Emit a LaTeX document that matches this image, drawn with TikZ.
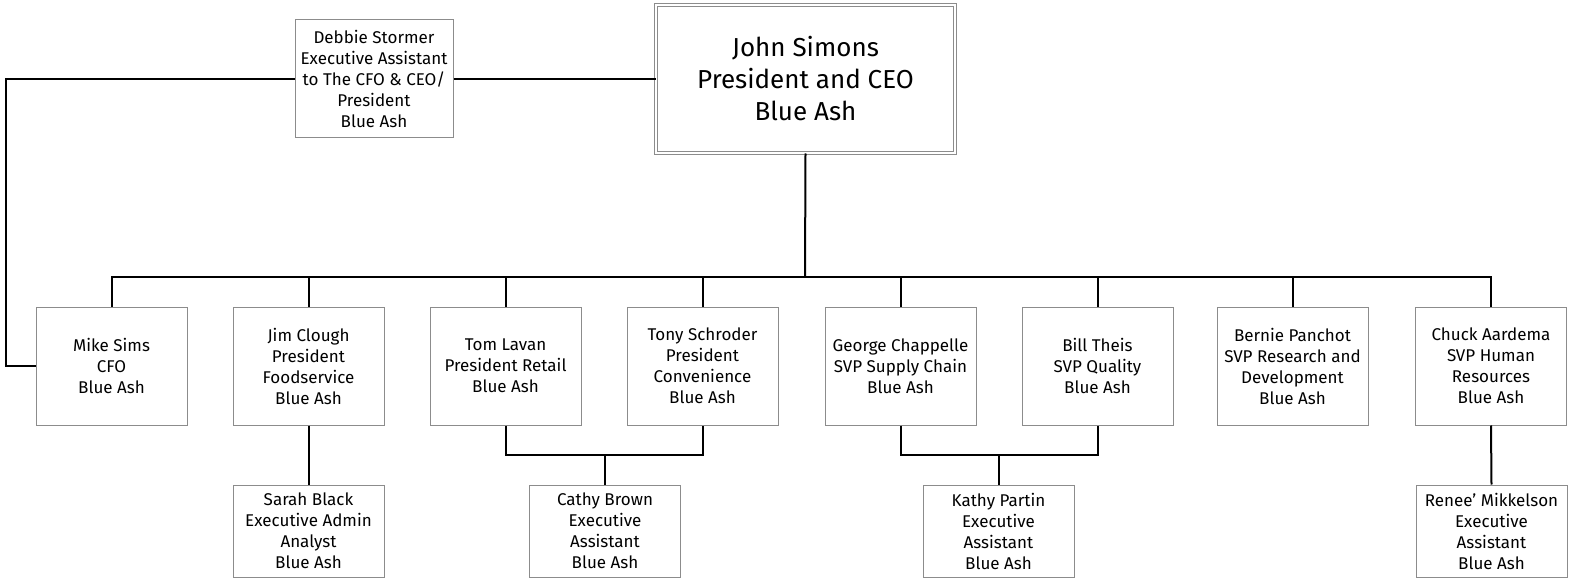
\documentclass[tikz,border=0pt]{standalone}
\usepackage{fontspec}
\setmainfont{Fira Sans}
\definecolor{boxgray}{RGB}{140,140,140}
\begin{document}
\begin{tikzpicture}[x=1pt,y=-1pt,
  box/.style={draw=boxgray, line width=1pt, minimum width=151pt, minimum height=118pt,
    inner sep=0pt, align=center, font=\fontsize{17}{21}\selectfont},
  sbox/.style={box, minimum height=92pt},
  ceobox/.style={draw=boxgray, line width=1pt, double=white, double distance=2.5pt,
    minimum width=299pt, minimum height=148pt, inner sep=0pt, align=center,
    font=\fontsize{26}{32}\selectfont},
  conn/.style={draw=black, line width=2pt}]
\useasboundingbox (0,0) rectangle (1572,580);
\node[ceobox] (ceo) at (805.5,79) {John Simons\\President and CEO\\Blue Ash};
\node[box, minimum width=158pt] (debbie) at (374,79) {Debbie Stormer\\Executive Assistant\\to The CFO \& CEO/\\President\\Blue Ash};
\node[box] (mike)   at (111.5,366) {Mike Sims\\CFO\\Blue Ash};
\node[box] (jim)    at (308.5,366) {Jim Clough\\President\\Foodservice\\Blue Ash};
\node[box] (tom)    at (505.5,366) {Tom Lavan\\President Retail\\Blue Ash};
\node[box] (tony)   at (702.5,366) {Tony Schroder\\President\\Convenience\\Blue Ash};
\node[box] (george) at (900.5,366) {George Chappelle\\SVP Supply Chain\\Blue Ash};
\node[box] (bill)   at (1097.5,366) {Bill Theis\\SVP Quality\\Blue Ash};
\node[box] (bernie) at (1292.5,366) {Bernie Panchot\\SVP Research and\\Development\\Blue Ash};
\node[box] (chuck)  at (1491,366) {Chuck Aardema\\SVP Human\\Resources\\Blue Ash};
\node[sbox] (sarah) at (308.5,531) {Sarah Black\\Executive Admin\\Analyst\\Blue Ash};
\node[sbox] (cathy) at (605,531) {Cathy Brown\\Executive\\Assistant\\Blue Ash};
\node[sbox] (kathy) at (998.5,531) {Kathy Partin\\Executive\\Assistant\\Blue Ash};
\node[sbox] (renee) at (1491.5,531) {Renee’ Mikkelson\\Executive\\Assistant\\Blue Ash};
\coordinate (bus) at (805,277);
\coordinate (lft) at (6,0);
\coordinate (j1) at (605,455);
\coordinate (j2) at (998.5,455);
% CEO to bus
\draw[conn] (ceo.south) -- (bus);
\draw[conn] (mike.north) -- (mike.north |- bus) -- (chuck.north |- bus) -- (chuck.north);
\foreach \n in {jim,tom,tony,george,bill,bernie}
  \draw[conn] (\n.north) -- (\n.north |- bus);
% assistant
\draw[conn] (debbie.east) -- (ceo.west);
\draw[conn] (debbie.west) -- (debbie.west -| lft) |- (mike.west);
% second row
\draw[conn] (jim.south) -- (sarah.north);
\draw[conn] (tom.south) |- (j1) -| (tony.south);
\draw[conn] (j1) -- (cathy.north);
\draw[conn] (george.south) |- (j2) -| (bill.south);
\draw[conn] (j2) -- (kathy.north);
\draw[conn] (chuck.south) -- (renee.north);
\end{tikzpicture}
\end{document}
